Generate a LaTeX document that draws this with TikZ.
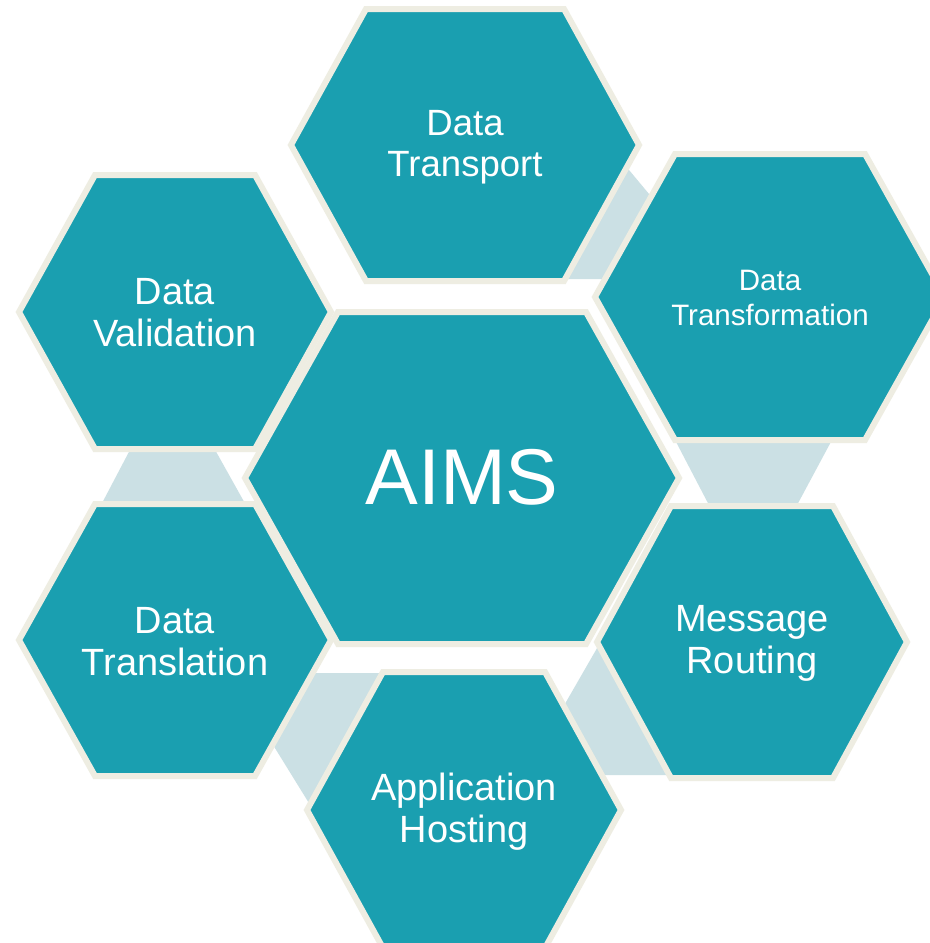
\documentclass[tikz,border=0pt]{standalone}
\usepackage{fontspec}
\setmainfont{Liberation Sans}
\usetikzlibrary{calc}
\definecolor{hexteal}{RGB}{26,159,176}
\definecolor{hexrim}{RGB}{238,237,226}
\definecolor{gaplight}{RGB}{203,224,228}
\tikzstyle{hexcell}=[fill=hexteal,draw=hexrim,line width=0.6mm,line join=miter]
\tikzstyle{gapfill}=[fill=gaplight]
\tikzstyle{hexlabel}=[text=white,align=center,inner sep=0pt,font=\fontsize{10.8}{12}\selectfont]
% cx, cy, half width, half top edge, half height
\newcommand{\drawhex}[5]{\draw[hexcell] (#1-#3,#2) -- (#1-#4,#2-#5) -- (#1+#4,#2-#5) -- (#1+#3,#2) -- (#1+#4,#2+#5) -- (#1-#4,#2+#5) -- cycle;}

\begin{document}
\begin{tikzpicture}[x=0.1mm,y=-0.1mm]
	\fill[white] (0,0) rectangle (930,943);
	\useasboundingbox (0,0) rectangle (930,943);

	% light gaps behind the cells
	\fill[gapfill] (624,164) -- (654,200) -- (609,279) -- (562,279) -- cycle;
	\fill[gapfill] (674,438) -- (833,438) -- (796,507) -- (710,507) -- cycle;
	\fill[gapfill] (131,448) -- (214,448) -- (247,507) -- (100,507) -- cycle;
	\fill[gapfill] (310,673) -- (388,673) -- (312,808) -- (270,740) -- cycle;
	\fill[gapfill] (600,643) -- (562,709) -- (599,775) -- (672,775) -- cycle;

	% cells
	\drawhex{465}{145}{174}{99}{136}
	\drawhex{770}{297}{175}{95}{143}
	\drawhex{175}{312}{156}{80}{137}
	\drawhex{175}{640}{156}{80}{136}
	\drawhex{752}{642}{155}{81}{136}
	\drawhex{464}{810}{157}{81}{138}
	\drawhex{462}{478}{217}{124}{166}

	\node[hexlabel, font=\fontsize{10.4}{11.6}\selectfont] (transport) at (465,147) {Data\\Transport};
	\node[hexlabel, font=\fontsize{8.4}{10}\selectfont] (transform) at (770,298) {Data\\Transformation};
	\node[hexlabel] (validation) at (175,313) {Data\\Validation};
	\node[hexlabel] (translation) at (175,642) {Data\\Translation};
	\node[hexlabel] (routing) at (752,643) {Message\\Routing};
	\node[hexlabel] (hosting) at (464,812) {Application\\Hosting};
	\node[hexlabel, font=\fontsize{22.5}{24}\selectfont] (aims) at (462,477) {AIMS};
\end{tikzpicture}
\end{document}
